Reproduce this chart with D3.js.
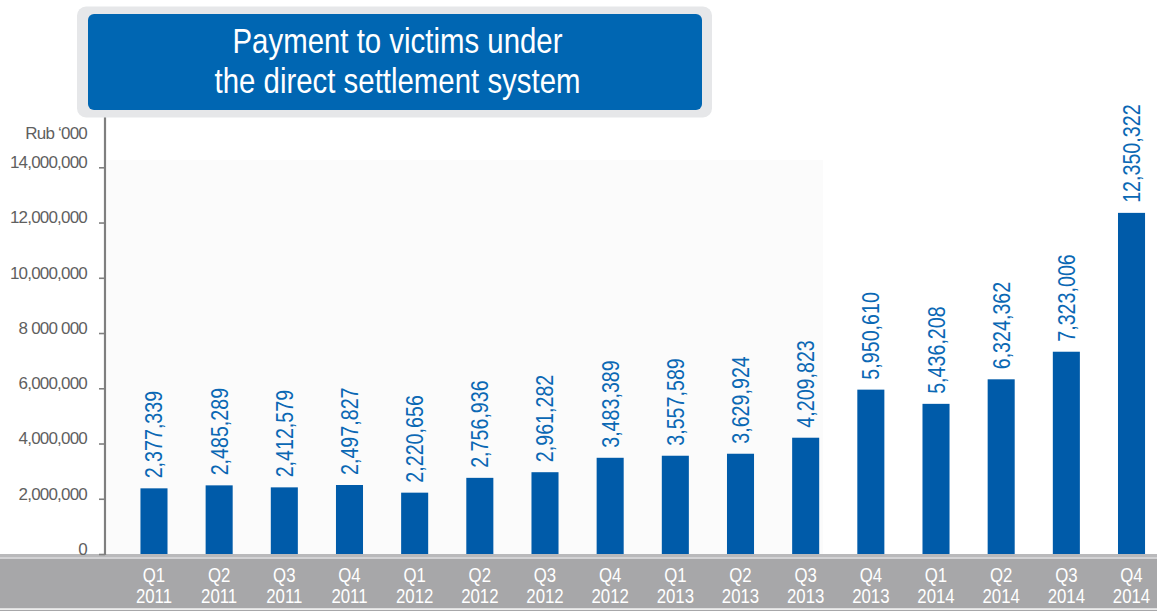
<!DOCTYPE html>
<html>
<head>
<meta charset="utf-8">
<script src="https://cdn.jsdelivr.net/npm/d3@7"></script>
<style>
  html, body { margin: 0; padding: 0; background: #ffffff; }
  svg { display: block; }
  text { font-family: "Liberation Sans", Arial, Helvetica, sans-serif; }
</style>
</head>
<body>
<svg id="chart" width="1157" height="611"></svg>
<script>
// Quarterly payments under the direct settlement system, thousand roubles
const quarters = ["Q1", "Q2", "Q3", "Q4", "Q1", "Q2", "Q3", "Q4", "Q1", "Q2", "Q3", "Q4", "Q1", "Q2", "Q3", "Q4"];
const years = ["2011", "2011", "2011", "2011", "2012", "2012", "2012", "2012", "2013", "2013", "2013", "2013", "2014", "2014", "2014", "2014"];
const payments = [2377339, 2485289, 2412579, 2497827, 2220656, 2756936, 2961282, 3483389, 3557589, 3629924, 4209823, 5950610, 5436208, 6324362, 7323006, 12350322];
const tickValues = [0, 2000000, 4000000, 6000000, 8000000, 10000000, 12000000, 14000000];
const tickLabels = ["0", "2,000,000", "4,000,000", "6,000,000", "8 000 000", "10,000,000", "12,000,000", "14,000,000"];
const titleLines = ["Payment to victims under", "the direct settlement system"];
const unitLabel = "Rub \u2018000";

const svg = d3.select("#chart");
const W = 1157;

const blue = "#005ba9";
const labelBlue = "#0a68b4";
// horizontal squeeze giving a condensed face
const NARROW = 0.82;

const keys = payments.map((d, i) => i);

// Scales
const x = d3.scaleBand()
  .domain(keys)
  .range([121.4, 1164.1])
  .paddingInner(0.585)
  .paddingOuter(0.2925);

const y = d3.scaleLinear()
  .domain([0, 14000000])
  .range([554, 167.3]);

const cx = i => x(i) + x.bandwidth() / 2;

// Faint plot panel
svg.append("rect")
  .attr("x", 107).attr("y", 160)
  .attr("width", 716).attr("height", 394)
  .attr("fill", "#fbfbfb");

// Bottom category band
svg.append("rect").attr("x", 0).attr("y", 554).attr("width", W).attr("height", 3).attr("fill", "#b9b9bb");
svg.append("rect").attr("x", 0).attr("y", 557).attr("width", W).attr("height", 2).attr("fill", "#d2d2d4");
svg.append("rect").attr("x", 0).attr("y", 559).attr("width", W).attr("height", 49.5).attr("fill", "#a7a7a9");
svg.append("rect").attr("x", 0).attr("y", 608.5).attr("width", W).attr("height", 1.5).attr("fill", "#ececec");
svg.append("rect").attr("x", 0).attr("y", 610).attr("width", W).attr("height", 1).attr("fill", "#a7a7a9");

// Bars
svg.append("g")
  .selectAll("rect")
  .data(payments)
  .join("rect")
  .attr("x", (d, i) => x(i))
  .attr("y", d => y(d))
  .attr("width", x.bandwidth())
  .attr("height", d => y(0) - y(d))
  .attr("fill", blue);

// Value labels, rotated above each bar
svg.append("g")
  .selectAll("text")
  .data(payments)
  .join("text")
  .attr("transform", (d, i) => `translate(${cx(i) + 8.5},${y(d) - 10}) rotate(-90) scale(${NARROW},1)`)
  .attr("text-anchor", "start")
  .attr("font-size", 24)
  .attr("fill", labelBlue)
  .text(d => d3.format(",")(d));

// Category labels (quarter / year)
const cat = svg.append("g")
  .attr("fill", "#ffffff")
  .attr("font-size", 20.5)
  .attr("text-anchor", "middle");
cat.selectAll("text.q")
  .data(quarters)
  .join("text")
  .attr("class", "q")
  .attr("transform", (d, i) => `translate(${cx(i)},581.5) scale(${NARROW},1)`)
  .text(d => d);
cat.selectAll("text.yr")
  .data(years)
  .join("text")
  .attr("class", "yr")
  .attr("transform", (d, i) => `translate(${cx(i)},602.5) scale(${NARROW},1)`)
  .text(d => d);

// Y axis
const yAxis = d3.axisLeft(y)
  .tickValues(tickValues)
  .tickFormat((d, i) => tickLabels[i])
  .tickSize(6)
  .tickPadding(12);

const gy = svg.append("g")
  .attr("transform", "translate(105,0)")
  .call(yAxis);
gy.select(".domain").remove();
gy.selectAll(".tick line").attr("stroke", "#7f7f7f").attr("stroke-width", 1.6);
gy.selectAll(".tick text")
  .attr("fill", "#5f5f5f")
  .attr("font-size", 17)
  .attr("letter-spacing", "-0.8px")
  .attr("dy", "0.02em")
  .attr("font-family", "'Liberation Sans', Arial, sans-serif");

// Axis line
svg.append("line")
  .attr("x1", 105).attr("x2", 105)
  .attr("y1", 117).attr("y2", y(0) + 1)
  .attr("stroke", "#7f7f7f")
  .attr("stroke-width", 2.2);

// Unit label
svg.append("text")
  .attr("x", 87).attr("y", 139)
  .attr("text-anchor", "end")
  .attr("font-size", 17)
  .attr("letter-spacing", "-0.8px")
  .attr("fill", "#5f5f5f")
  .text(unitLabel);

// Title box
svg.append("rect")
  .attr("x", 77).attr("y", 6.5)
  .attr("width", 635).attr("height", 111)
  .attr("rx", 9).attr("ry", 9)
  .attr("fill", "#e6e7e9");
svg.append("rect")
  .attr("x", 88).attr("y", 14)
  .attr("width", 614).attr("height", 96)
  .attr("rx", 6).attr("ry", 6)
  .attr("fill", "#0066b2");
svg.append("g")
  .attr("fill", "#ffffff")
  .attr("font-size", 35)
  .attr("text-anchor", "middle")
  .selectAll("text")
  .data(titleLines)
  .join("text")
  .attr("transform", (d, i) => `translate(397.5,${52.5 + i * 40}) scale(0.84,1)`)
  .text(d => d);
</script>
</body>
</html>
